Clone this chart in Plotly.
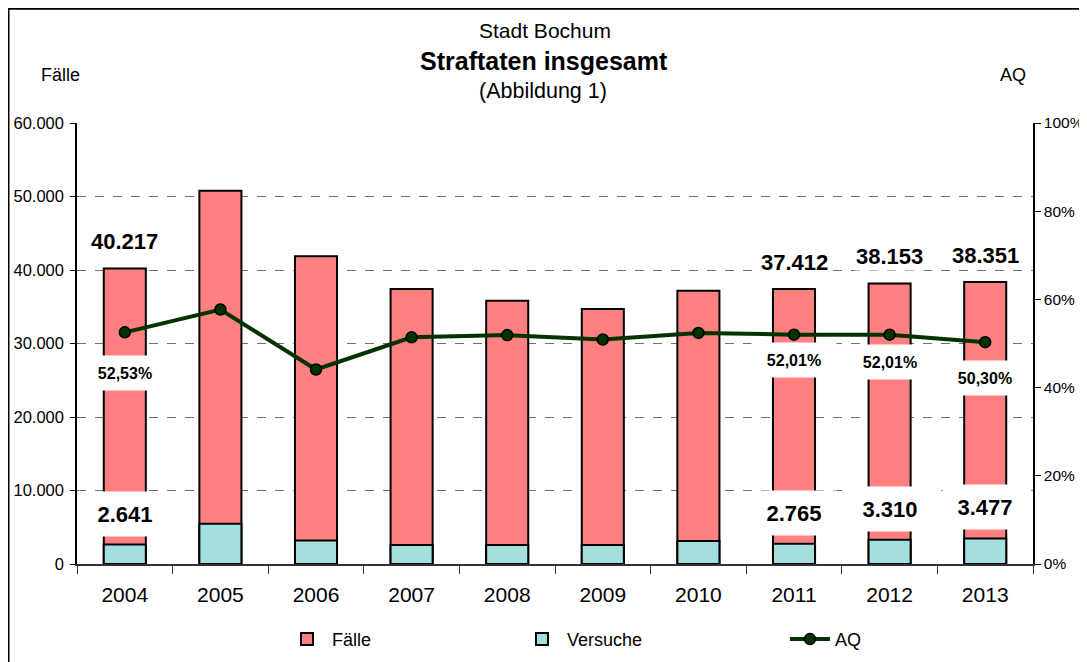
import plotly.graph_objects as go

years = ["2004", "2005", "2006", "2007", "2008", "2009", "2010", "2011", "2012", "2013"]
faelle = [40217, 50790, 41860, 37412, 35820, 34690, 37190, 37412, 38153, 38351]
versuche = [2641, 5470, 3200, 2600, 2600, 2600, 3130, 2765, 3310, 3477]
aq = [52.53, 57.7, 44.1, 51.4, 51.9, 50.9, 52.4, 52.01, 52.01, 50.30]

labelled_years = ["2004", "2011", "2012", "2013"]
pct_label_shift = [-41, -25, -27, -36]

FONT = "Liberation Sans, Arial, sans-serif"
OFF = 8  # page body margin of the browser
W, H = 1087, 662
# plot area in reference pixels: x 77..1033, y 123..564.5
L = 77 - OFF
R = W - (1033 - OFF)
T = 123 - OFF
B = H - (564.5 - OFF)
plot_w = W - L - R
plot_h = H - T - B


def fx(ref_px):
    return (ref_px - OFF - L) / plot_w


def fy(ref_py):
    return (H - B - (ref_py - OFF)) / plot_h


def de_num(v):
    return f"{v:,.0f}".replace(",", ".")


def de_pct(v):
    return f"{v:.2f}".replace(".", ",") + "%"


fig = go.Figure()
fig.add_trace(go.Bar(x=years, y=faelle, name="Fälle", width=0.44, legend="legend",
                     marker=dict(color="#FF8080", line=dict(color="black", width=2))))
fig.add_trace(go.Bar(x=years, y=versuche, name="Versuche", width=0.44, legend="legend2",
                     marker=dict(color="#A3DFDF", line=dict(color="black", width=2))))
fig.add_trace(go.Scatter(x=years, y=[v / 100 for v in aq], name="AQ", yaxis="y2", legend="legend3",
                         mode="lines+markers",
                         line=dict(color="#003300", width=4),
                         marker=dict(color="#003300", size=11, line=dict(color="black", width=1.5))))

ann = []
for i, yr in enumerate(labelled_years):
    k = years.index(yr)
    ann.append(dict(x=k, y=faelle[k], xref="x", yref="y", text=f"<b>{de_num(faelle[k])}</b>",
                    showarrow=False, yshift=27, yanchor="middle", xanchor="center", bgcolor="white",
                    font=dict(family=FONT, size=22, color="black")))
    ann.append(dict(x=k, y=versuche[k], xref="x", yref="y", text=f"<b>{de_num(versuche[k])}</b>",
                    showarrow=False, yshift=31, yanchor="middle", xanchor="center", bgcolor="white",
                    width=82, height=42, font=dict(family=FONT, size=22, color="black")))
    ann.append(dict(x=k, y=aq[k] / 100, xref="x", yref="y2", text=f"<b>{de_pct(aq[k])}</b>",
                    showarrow=False, yshift=pct_label_shift[i], yanchor="middle", xanchor="center",
                    bgcolor="white", width=82, height=32,
                    font=dict(family=FONT, size=16, color="black")))


def txt(x, y, text, size):
    return dict(x=fx(x), y=fy(y), xref="paper", yref="paper", xanchor="center", yanchor="middle",
                text=text, showarrow=False, font=dict(family=FONT, size=size, color="black"))


ann += [
    txt(545, 30, "Stadt Bochum", 21),
    txt(544, 61, "<b>Straftaten insgesamt</b>", 25),
    txt(543, 91, "(Abbildung 1)", 21.5),
    txt(60, 75, "Fälle", 18),
    txt(1013, 75, "AQ", 18),
]


def leg(x, y):
    return dict(orientation="h", x=fx(x), xanchor="left", y=fy(y), yanchor="middle",
                font=dict(family=FONT, size=18, color="black"), itemwidth=40,
                bgcolor="rgba(0,0,0,0)")


fig.update_layout(
    width=W, height=H,
    margin=dict(l=L, r=R, t=T, b=B, autoexpand=False),
    paper_bgcolor="white", plot_bgcolor="white",
    barmode="overlay",
    separators=",.",
    font=dict(family=FONT, size=15, color="black"),
    showlegend=True,
    legend=leg(282, 640),
    legend2=leg(517, 640),
    legend3=leg(785, 640),
    xaxis=dict(type="category", range=[-0.5, len(years) - 0.5], showline=True, linecolor="#333333",
               linewidth=2, ticks="outside", tickson="boundaries", ticklen=8, tickcolor="#333333",
               tickangle=0, tickfont=dict(family=FONT, size=21, color="black"), ticklabelstandoff=11,
               showgrid=False, zeroline=False),
    yaxis=dict(range=[0, 60000], dtick=10000, tickformat=",d", showline=True, linecolor="black",
               linewidth=1.5, ticks="outside", ticklen=5, tickcolor="black", showgrid=True,
               gridcolor="#707070", griddash="dash", gridwidth=1, zeroline=False,
               ticklabelstandoff=3, tickfont=dict(family=FONT, size=16.5, color="black")),
    yaxis2=dict(range=[0, 1], dtick=0.2, tickformat=".0%", overlaying="y", side="right",
                showline=True, linecolor="black", linewidth=1.5, ticks="outside", ticklen=6,
                tickcolor="black", showgrid=False, zeroline=False,
                tickfont=dict(family=FONT, size=15.5, color="black")),
    annotations=ann,
    shapes=[dict(type="rect", xref="paper", yref="paper",
                 x0=fx(OFF + 0.5), x1=fx(W + 30), y0=fy(H + 30), y1=fy(OFF + 0.5),
                 line=dict(color="black", width=2), layer="below")],
)

fig.write_html("out.html")
